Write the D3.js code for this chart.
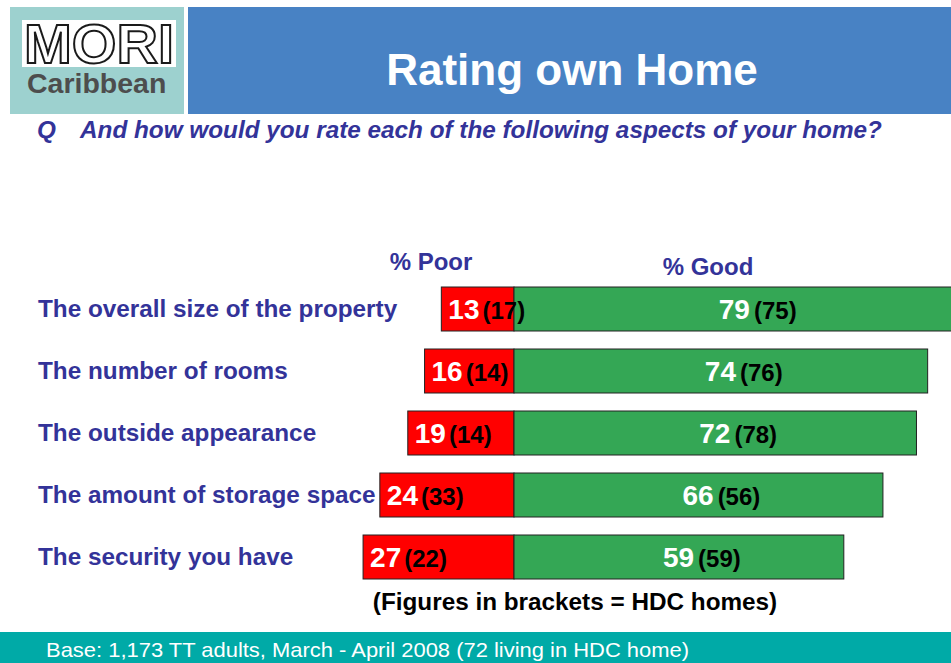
<!DOCTYPE html>
<html>
<head>
<meta charset="utf-8">
<script src="https://cdn.jsdelivr.net/npm/d3@7"></script>
<style>
  html, body { margin: 0; padding: 0; background: #ffffff; }
  svg { display: block; font-family: Arial, "Liberation Sans", sans-serif; }
</style>
</head>
<body>
<svg id="chart" width="951" height="663"></svg>
<script>
// Survey aspects, top to bottom
const categories = [
  "The overall size of the property",
  "The number of rooms",
  "The outside appearance",
  "The amount of storage space",
  "The security you have"
];
// % rating each aspect poor / good (all adults)
const poorValues = [13, 16, 19, 24, 27];
const goodValues = [79, 74, 72, 66, 59];
// Same ratings among people living in HDC homes (shown in brackets)
const poorHDC = [17, 14, 14, 33, 22];
const goodHDC = [75, 76, 78, 56, 59];

const svg = d3.select("#chart");
const W = 951, H = 663;
const navy = "#333399";

// ---- header ----
svg.append("rect").attr("x", 10).attr("y", 7).attr("width", 174).attr("height", 107).attr("fill", "#9dd1cf");
svg.append("rect").attr("x", 22).attr("y", 20).attr("width", 154).attr("height", 47).attr("fill", "#ffffff");
svg.append("text").attr("x", 24).attr("y", 63)
  .attr("font-size", 56).attr("font-weight", "bold")
  .attr("textLength", 150).attr("lengthAdjust", "spacingAndGlyphs")
  .attr("fill", "#ffffff").attr("stroke", "#1a1a1a").attr("stroke-width", 2)
  .text("MORI");
svg.append("text").attr("x", 27).attr("y", 93)
  .attr("font-size", 28.5).attr("font-weight", "bold").attr("fill", "#4d4d4d")
  .text("Caribbean");

svg.append("rect").attr("x", 188).attr("y", 7).attr("width", W - 188).attr("height", 107).attr("fill", "#4882c4");
svg.append("text").attr("x", 572).attr("y", 85).attr("text-anchor", "middle")
  .attr("font-size", 44).attr("font-weight", "bold").attr("fill", "#ffffff")
  .text("Rating own Home");

// question
const q = svg.append("text").attr("y", 138)
  .attr("font-size", 24.3).attr("font-weight", "bold").attr("font-style", "italic").attr("fill", navy);
q.append("tspan").attr("x", 37).text("Q");
q.append("tspan").attr("x", 80).text("And how would you rate each of the following aspects of your home?");

// ---- scales ----
const x = d3.scaleLinear().domain([0, 1]).range([514, 514 + 5.59]);
const y = d3.scaleBand().domain(categories).range([287, 579]).paddingInner(18 / 62).paddingOuter(0);

// column headings
svg.append("text").attr("x", 431).attr("y", 270).attr("text-anchor", "middle")
  .attr("font-size", 24).attr("font-weight", "bold").attr("fill", navy).text("% Poor");
svg.append("text").attr("x", 708).attr("y", 275).attr("text-anchor", "middle")
  .attr("font-size", 24).attr("font-weight", "bold").attr("fill", navy).text("% Good");

const rows = categories.map((c, i) => ({
  cat: c, poor: poorValues[i], good: goodValues[i], poorH: poorHDC[i], goodH: goodHDC[i]
}));

// category labels
svg.append("g").selectAll("text").data(rows).join("text")
  .attr("x", 38).attr("y", d => y(d.cat) + y.bandwidth() / 2 + 8)
  .attr("font-size", 24.3).attr("font-weight", "bold").attr("fill", navy)
  .text(d => d.cat);

// poor bars (extend left of zero)
svg.append("g").selectAll("rect").data(rows).join("rect")
  .attr("x", d => x(-d.poor)).attr("y", d => y(d.cat))
  .attr("width", d => x(0) - x(-d.poor)).attr("height", y.bandwidth())
  .attr("fill", "#ff0000").attr("stroke", "#222").attr("stroke-width", 1);

// good bars (extend right of zero)
svg.append("g").selectAll("rect").data(rows).join("rect")
  .attr("x", x(0)).attr("y", d => y(d.cat))
  .attr("width", d => x(d.good) - x(0)).attr("height", y.bandwidth())
  .attr("fill", "#34a755").attr("stroke", "#222").attr("stroke-width", 1);

// poor value labels: value in white, HDC value in brackets after it
const poorLab = svg.append("g").selectAll("text").data(rows).join("text")
  .attr("x", d => x(-d.poor) + 7).attr("y", d => y(d.cat) + y.bandwidth() / 2 + 10)
  .attr("font-weight", "bold");
poorLab.append("tspan").attr("font-size", 28).attr("fill", "#ffffff").text(d => d.poor);
poorLab.append("tspan").attr("dx", 3).attr("font-size", 24).attr("fill", "#000000")
  .text(d => "(" + d.poorH + ")");

// good value labels: value centred in the bar, HDC value after it
const goodLab = svg.append("g").selectAll("text").data(rows).join("text")
  .attr("x", d => (x(0) + x(d.good)) / 2 - 16).attr("y", d => y(d.cat) + y.bandwidth() / 2 + 10)
  .attr("font-weight", "bold");
goodLab.append("tspan").attr("font-size", 28).attr("fill", "#ffffff").text(d => d.good);
goodLab.append("tspan").attr("dx", 4).attr("font-size", 24).attr("fill", "#000000")
  .text(d => "(" + d.goodH + ")");

// note
svg.append("text").attr("x", 575).attr("y", 610).attr("text-anchor", "middle")
  .attr("font-size", 24.3).attr("font-weight", "bold").attr("fill", "#000000")
  .text("(Figures in brackets = HDC homes)");

// ---- footer ----
svg.append("rect").attr("x", 0).attr("y", 632).attr("width", W).attr("height", H - 632).attr("fill", "#00aaa7");
svg.append("text").attr("x", 46).attr("y", 657)
  .attr("font-size", 21).attr("fill", "#ffffff")
  .attr("textLength", 643).attr("lengthAdjust", "spacingAndGlyphs")
  .text("Base: 1,173 TT adults, March - April 2008 (72 living in HDC home)");
</script>
</body>
</html>
